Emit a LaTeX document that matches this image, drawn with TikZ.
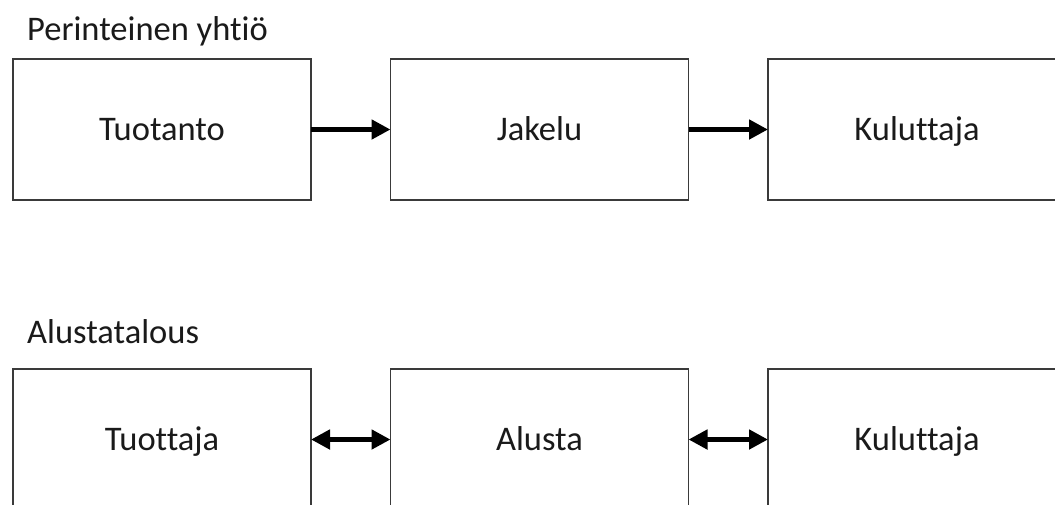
\documentclass[tikz,border=0pt]{standalone}
\usepackage{fontspec}
\setmainfont{Carlito}[Ligatures={NoCommon,NoRequired,NoContextual}]
\usetikzlibrary{arrows.meta}
\definecolor{txt}{HTML}{1A1A1A}
\definecolor{edge}{HTML}{3A3A3A}
\tikzset{
  box/.style={draw=edge, line width=1.6pt, rectangle, minimum width=298pt, minimum height=141pt,
    inner sep=0pt, outer sep=0pt, text height=21pt, text depth=0pt, text=txt,
    font=\fontsize{34.5}{40}\selectfont},
  title/.style={anchor=base west, inner sep=0pt, text=txt, font=\fontsize{34.5}{40}\selectfont},
  flow/.style={line width=5.5pt, black, -{Triangle[length=19pt,width=19pt]}},
  flowboth/.style={line width=5.5pt, black, {Triangle[length=19pt,width=19pt]}-{Triangle[length=19pt,width=19pt]}}
}
\begin{document}
\begin{tikzpicture}[x=1pt,y=-1pt]
\clip (0,0) rectangle (1055,504);
\fill[white] (0,0) rectangle (1055,504);
\node[title] (t1) at (27,40) {Perinteinen yhtiö};
\node[title] (t2) at (27,343) {Alustatalous};
\node[box] (a1) at (162,129.5) {Tuotanto};
\node[box] (a2) at (539.5,129.5) {Jakelu};
\node[box] (a3) at (917,129.5) {Kuluttaja};
\node[box] (b1) at (162,439.5) {Tuottaja};
\node[box] (b2) at (539.5,439.5) {Alusta};
\node[box] (b3) at (917,439.5) {Kuluttaja};
\draw[flow] (a1) -- (a2);
\draw[flow] (a2) -- (a3);
\draw[flowboth] (b1) -- (b2);
\draw[flowboth] (b2) -- (b3);
\end{tikzpicture}
\end{document}
